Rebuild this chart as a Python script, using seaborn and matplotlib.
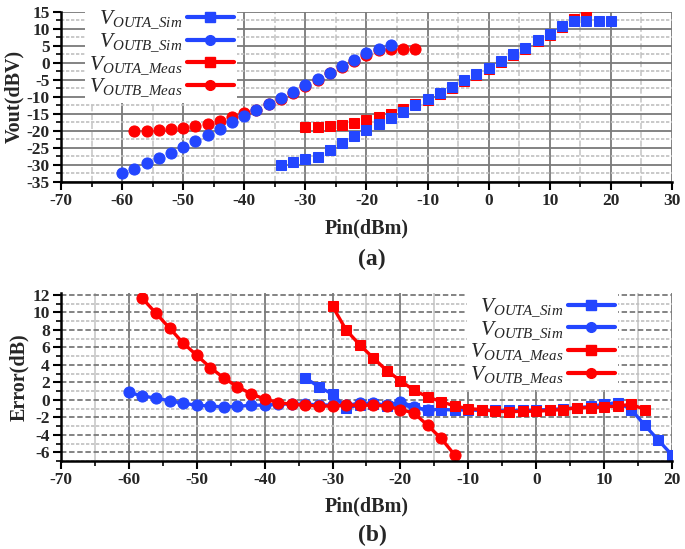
import matplotlib
matplotlib.use("Agg")
import matplotlib.pyplot as plt
from matplotlib.ticker import MultipleLocator
from matplotlib.lines import Line2D
import seaborn as sns

# Pin (dBm) sweeps
pin_a_sim = [-34, -32, -30, -28, -26, -24, -22, -20, -18, -16, -14, -12, -10, -8,
             -6, -4, -2, 0, 2, 4, 6, 8, 10, 12, 14, 16, 18, 20]
pin_a_meas = [-30, -28, -26, -24, -22, -20, -18, -16, -14, -12, -10, -8, -6, -4,
              -2, 0, 2, 4, 6, 8, 10, 12, 14, 16]
pin_b_sim = [-60, -58, -56, -54, -52, -50, -48, -46, -44, -42, -40, -38, -36, -34,
             -32, -30, -28, -26, -24, -22, -20, -18, -16]
pin_b_meas = [-58, -56, -54, -52, -50, -48, -46, -44, -42, -40, -38, -36, -34, -32,
              -30, -28, -26, -24, -22, -20, -18, -16, -14, -12]

# (a) Vout (dBV)
vout_a_sim = [-30.0, -29.2, -28.2, -27.7, -25.8, -23.5, -21.7, -19.9, -18.1, -16.2,
              -14.5, -12.6, -10.8, -8.9, -7.2, -5.2, -3.4, -1.6, 0.4, 2.4, 4.3, 6.6,
              8.5, 10.7, 12.1, 12.1, 12.1, 12.1]
vout_a_meas = [-19.0, -18.8, -18.6, -18.2, -17.8, -16.9, -15.9, -15.0, -13.7, -12.3,
               -10.9, -9.1, -7.4, -5.4, -3.6, -1.8, 0.2, 2.2, 4.1, 6.4, 8.2, 10.5,
               12.9, 13.9]
vout_b_sim = [-32.5, -31.2, -29.6, -27.9, -26.5, -24.8, -23.1, -21.4, -19.4, -17.6,
              -15.7, -13.8, -12.1, -10.4, -8.6, -6.7, -4.8, -3.0, -1.1, 0.7, 2.9, 3.9,
              5.3]
vout_b_meas = [-20.0, -20.0, -19.8, -19.5, -19.2, -18.7, -18.1, -17.3, -16.0, -14.9,
               -13.8, -12.2, -10.6, -8.8, -6.9, -5.0, -3.2, -1.3, 0.5, 2.1, 3.7, 3.9,
               4.1, 4.1]

# (b) Error (dB)
err_a_sim = [2.5, 1.5, 0.65, -0.9, -0.6, -0.5, -0.7, -0.5, -0.9, -1.1, -1.1, -1.15,
             -1.15, -1.2, -1.2, -1.2, -1.2, -1.15, -1.1, -1.0, -0.9, -0.75, -0.5, -0.3,
             -1.1, -2.9, -4.6, -6.3]
err_b_sim = [0.85, 0.45, 0.2, -0.1, -0.4, -0.6, -0.7, -0.8, -0.75, -0.6, -0.6, -0.5,
             -0.45, -0.5, -0.55, -0.6, -0.6, -0.4, -0.4, -0.6, -0.2, -0.8, -1.2]
err_a_meas = [10.7, 8.0, 6.3, 4.8, 3.35, 2.2, 1.1, 0.35, -0.2, -0.7, -1.0, -1.1, -1.3,
              -1.35, -1.3, -1.3, -1.2, -1.1, -0.9, -0.9, -0.8, -0.7, -0.5, -1.1]
err_b_meas = [11.6, 9.9, 8.2, 6.5, 5.1, 3.7, 2.5, 1.5, 0.7, 0.1, -0.3, -0.5, -0.6,
              -0.7, -0.7, -0.6, -0.6, -0.6, -0.7, -1.1, -1.5, -2.9, -4.4, -6.3]

labels = [r"$V_{OUTA\_Sim}$", r"$V_{OUTB\_Sim}$",
          r"$V_{OUTA\_Meas}$", r"$V_{OUTB\_Meas}$"]

BLUE = "#2346ff"
RED = "#ff0000"

sns.set_theme(style="white")
plt.rcParams["font.family"] = ["Liberation Serif", "DejaVu Serif"]
plt.rcParams["font.weight"] = "bold"
plt.rcParams["axes.unicode_minus"] = False
plt.rcParams["mathtext.fontset"] = "custom"
plt.rcParams["mathtext.it"] = "Liberation Serif:italic:normal"
plt.rcParams["mathtext.rm"] = "Liberation Serif:normal"
plt.rcParams["mathtext.default"] = "it"

fig = plt.figure(figsize=(6.85, 5.49), dpi=100)
ax1 = fig.add_axes([0.089, 0.669, 0.892, 0.310])
ax2 = fig.add_axes([0.089, 0.160, 0.892, 0.306])


def style_axis(ax):
    for s in ["top", "right"]:
        ax.spines[s].set_visible(False)
    for s in ["left", "bottom"]:
        ax.spines[s].set_color("black")
        ax.spines[s].set_linewidth(1.8)
    ax.tick_params(axis="both", which="major", direction="out", length=6, width=1.5,
                   color="black", labelsize=12.5, pad=2, bottom=True, left=True)
    ax.tick_params(axis="both", which="minor", direction="out", length=3.5, width=1.2,
                   color="black", bottom=True, left=True)
    ax.set_axisbelow(True)


def legend_handles():
    return [Line2D([0], [0], color=BLUE, lw=3, marker="s", ms=7),
            Line2D([0], [0], color=BLUE, lw=3, marker="o", ms=7),
            Line2D([0], [0], color=RED, lw=3, marker="s", ms=7),
            Line2D([0], [0], color=RED, lw=3, marker="o", ms=7)]


# ---- (a) ----
sns.lineplot(x=pin_a_meas, y=vout_a_meas, ax=ax1, color=RED, marker="s", ms=7,
             linestyle="", mec=RED)
sns.lineplot(x=pin_b_meas, y=vout_b_meas, ax=ax1, color=RED, marker="o", ms=8,
             linestyle="", mec=RED)
sns.lineplot(x=pin_a_sim, y=vout_a_sim, ax=ax1, color=BLUE, marker="s", ms=7,
             linestyle="", mec=BLUE)
sns.lineplot(x=pin_b_sim, y=vout_b_sim, ax=ax1, color=BLUE, marker="o", ms=8,
             linestyle="", mec=BLUE)

ax1.set_xlim(-70, 30)
ax1.set_ylim(-35, 15)
ax1.xaxis.set_major_locator(MultipleLocator(10))
ax1.xaxis.set_minor_locator(MultipleLocator(5))
ax1.yaxis.set_major_locator(MultipleLocator(5))
ax1.yaxis.set_minor_locator(MultipleLocator(2.5))
ax1.grid(which="major", axis="both", color="#7a7a7a", lw=1.3, ls="-")
ax1.grid(which="minor", axis="x", color="#c8c8c8", lw=1.2, ls="--")
ax1.grid(which="minor", axis="y", color="#c0c0c0", lw=1.2, ls=(0, (2, 1)))
style_axis(ax1)
ax1.set_xlabel("Pin(dBm)", fontsize=14.5, fontweight="bold", labelpad=7)
ax1.set_ylabel("Vout(dBV)", fontsize=14.5, fontweight="bold", labelpad=2)
leg1 = ax1.legend(legend_handles(), labels, loc="upper left",
                  bbox_to_anchor=(0.040, 1.035), fontsize=15.5, markerfirst=False,
                  frameon=True, facecolor="white", edgecolor="none", framealpha=1,
                  handlelength=2.2, handletextpad=0.2, labelspacing=0.0,
                  borderpad=0.15, borderaxespad=0, fancybox=False)
fig.text(0.543, 0.528, "(a)", fontsize=17, fontweight="bold", ha="center", va="center")

# ---- (b) ----
sns.lineplot(x=pin_a_sim, y=err_a_sim, ax=ax2, color=BLUE, marker="s", ms=7, lw=2.4,
             mec=BLUE)
sns.lineplot(x=pin_b_sim, y=err_b_sim, ax=ax2, color=BLUE, marker="o", ms=8, lw=2.4,
             mec=BLUE)
sns.lineplot(x=pin_a_meas, y=err_a_meas, ax=ax2, color=RED, marker="s", ms=7, lw=2.4,
             mec=RED)
sns.lineplot(x=pin_b_meas, y=err_b_meas, ax=ax2, color=RED, marker="o", ms=8, lw=2.4,
             mec=RED)

ax2.set_xlim(-70, 20)
ax2.set_ylim(-7, 12.2)
ax2.xaxis.set_major_locator(MultipleLocator(10))
ax2.xaxis.set_minor_locator(MultipleLocator(5))
ax2.yaxis.set_major_locator(MultipleLocator(2))
ax2.yaxis.set_minor_locator(MultipleLocator(1))
ax2.grid(which="major", axis="x", color="#7a7a7a", lw=1.3, ls="-")
ax2.grid(which="minor", axis="x", color="#c8c8c8", lw=1.2, ls="-")
ax2.grid(which="major", axis="y", color="#7a7a7a", lw=1.3, ls=(0, (3, 1.5)))
ax2.grid(which="minor", axis="y", color="#c0c0c0", lw=1.2, ls=(0, (2, 1)))
style_axis(ax2)
ax2.set_xlabel("Pin(dBm)", fontsize=14.5, fontweight="bold", labelpad=6)
ax2.set_ylabel("Error(dB)", fontsize=14.5, fontweight="bold", labelpad=2)
leg2 = ax2.legend(legend_handles(), labels, loc="upper left",
                  bbox_to_anchor=(0.664, 1.0), fontsize=15.5, markerfirst=False,
                  frameon=True, facecolor="white", edgecolor="none", framealpha=1,
                  handlelength=2.2, handletextpad=0.2, labelspacing=0.0,
                  borderpad=0.15, borderaxespad=0, fancybox=False)
fig.text(0.543, 0.025, "(b)", fontsize=17, fontweight="bold", ha="center", va="center")

fig.savefig("out.png", dpi=100)
